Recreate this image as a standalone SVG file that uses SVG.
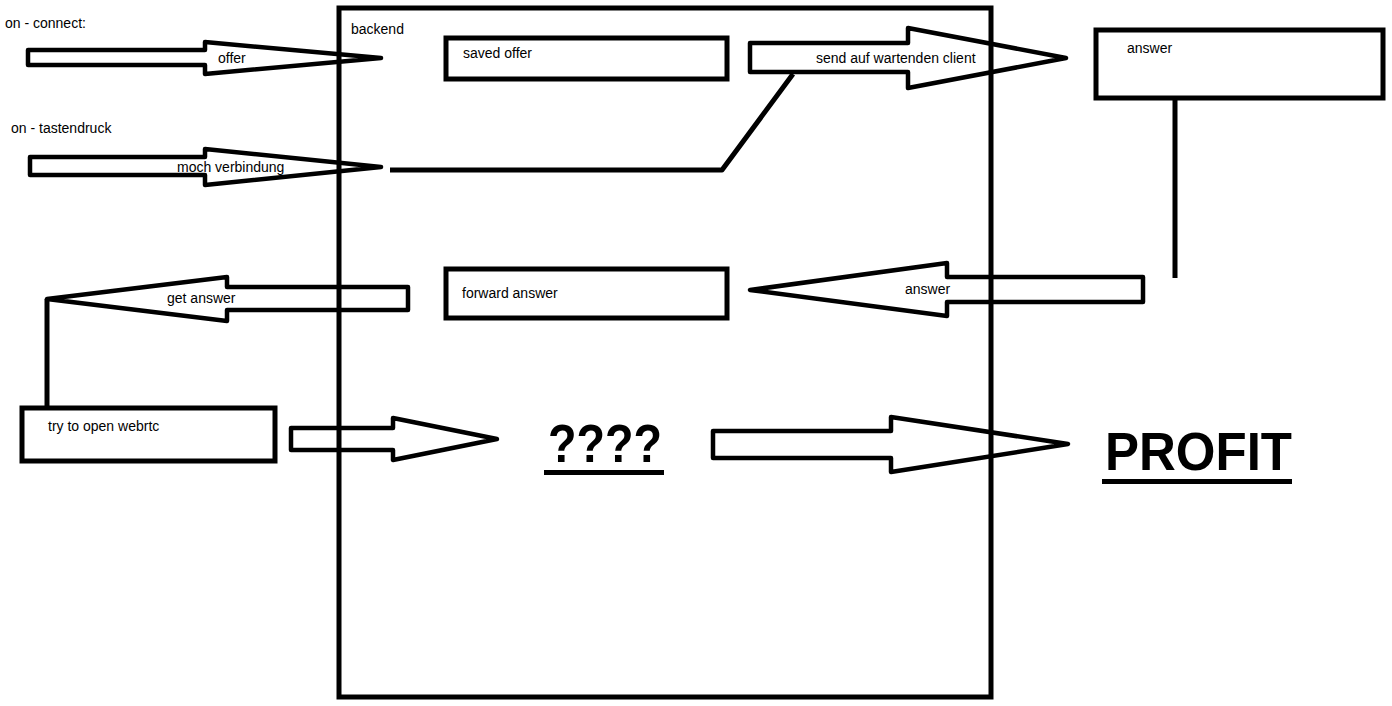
<svg xmlns="http://www.w3.org/2000/svg" width="1392" height="706" viewBox="0 0 1392 706">
<style>
.box{fill:none;stroke:#000;stroke-width:5}
.arr{fill:none;stroke:#000;stroke-width:4.5;stroke-linejoin:round}
.ln{fill:none;stroke:#000;stroke-width:5;stroke-linejoin:round}
.t{font-family:"Liberation Sans",Arial,sans-serif;font-size:14px;fill:#000}
.big{font-family:"Liberation Sans",Arial,sans-serif;font-weight:bold;font-size:54px;fill:#000}
</style>
<rect width="1392" height="706" fill="#fff"/>
<g id="backend">
<rect class="box" x="339" y="8" width="652" height="689"/>
<text class="t" x="351" y="34">backend</text>
</g>
<g id="saved-offer">
<rect class="box" x="446" y="38" width="281" height="41"/>
<text class="t" x="463" y="58">saved offer</text>
</g>
<g id="forward-answer">
<rect class="box" x="446" y="269" width="281" height="49"/>
<text class="t" x="462" y="298">forward answer</text>
</g>
<g id="answer-box">
<rect class="box" x="1096" y="30" width="287" height="68"/>
<text class="t" x="1127" y="53">answer</text>
</g>
<g id="webrtc">
<rect class="box" x="22" y="408" width="253" height="53"/>
<text class="t" x="48" y="431">try to open webrtc</text>
</g>
<g id="on-connect"><text class="t" x="5" y="28">on - connect:</text></g>
<g id="on-tastendruck"><text class="t" x="11" y="133">on - tastendruck</text></g>
<g id="unknown">
<text class="big" x="548" y="462" textLength="114" lengthAdjust="spacingAndGlyphs">????</text>
<rect x="544" y="470" width="120" height="5" fill="#000"/>
</g>
<g id="profit">
<text class="big" x="1105" y="470" textLength="187" lengthAdjust="spacingAndGlyphs">PROFIT</text>
<rect x="1102" y="479" width="190" height="5" fill="#000"/>
</g>
<g id="connectors">
<polygon class="arr" points="28,50 205,50 205,42 381,58 205,74 205,65 28,65"/>
<text class="t" x="218" y="63">offer</text>
<polygon class="arr" points="30,157 205,157 205,149 381,167 205,185 205,175 30,175"/>
<text class="t" x="177" y="172">moch verbindung</text>
<polyline class="ln" points="390,170 722,170 793,74"/>
<polygon class="arr" points="750,43 908,43 908,28 1066,58 908,88 908,72 750,72"/>
<text class="t" x="816" y="63">send auf wartenden client</text>
<line class="ln" x1="1175" y1="100" x2="1175" y2="278"/>
<polygon class="arr" points="1143,277 947,277 947,263 750,290 947,316 947,302 1143,302"/>
<text class="t" x="905" y="294">answer</text>
<polygon class="arr" points="408,287 227,287 227,277 47,299 227,321 227,310 408,310"/>
<text class="t" x="167" y="303">get answer</text>
<line class="ln" x1="47" y1="299" x2="47" y2="407"/>
<polygon class="arr" points="291,428 393,428 393,418 497,439 393,460 393,450 291,450"/>
<polygon class="arr" points="713,431 891,431 891,417 1068,444 891,472 891,458 713,458"/>
</g>
</svg>
